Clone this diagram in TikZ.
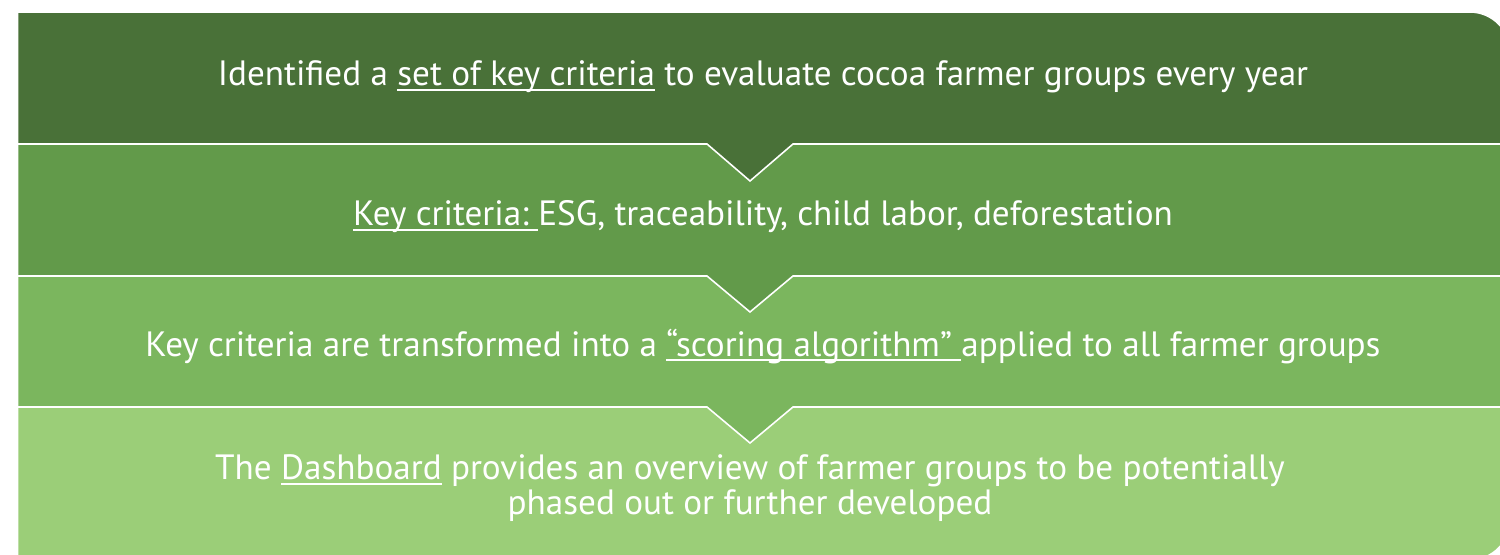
\documentclass[tikz,border=0pt]{standalone}
\usepackage{fontspec}
\setmainfont{PT Sans}
\usepackage{tikz}

\definecolor{bandone}{RGB}{73,113,56}
\definecolor{bandtwo}{RGB}{98,154,74}
\definecolor{bandthree}{RGB}{123,182,94}
\definecolor{bandfour}{RGB}{155,206,120}

% underline at a fixed depth, through the descenders
\newcommand{\uln}[1]{\setbox0=\hbox{#1}\rlap{\vrule height -0.08em depth 0.135em width \wd0\relax}\box0\relax}

\begin{document}
\begin{tikzpicture}[txt/.style={text=white,font=\fontsize{20}{18}\selectfont,align=center,anchor=base,inner sep=0pt},
                    band/.style={draw=white,line width=0.9pt,line join=miter}]
      \useasboundingbox (0,0) rectangle (30,11.08);
      \clip (0,0) rectangle (30,11.08);

      % bands, lowest first so the notches lie on top
      \fill [white] (0,0) rectangle (30,11.08);
      \draw [band,fill=bandfour] (0.35,2.94) -- (30.2,2.94) -- (30.2,0.68) arc (0:-90:0.8) -- (0.35,-0.12) -- cycle;
      \draw [band,fill=bandthree] (0.35,5.56) -- (30.2,5.56) -- (30.2,2.94) -- (15.86,2.94) -- (15.0,2.22) -- (14.14,2.94) -- (0.35,2.94) -- cycle;
      \draw [band,fill=bandtwo] (0.35,8.20) -- (30.2,8.20) -- (30.2,5.56) -- (15.86,5.56) -- (15.0,4.84) -- (14.14,5.56) -- (0.35,5.56) -- cycle;
      \draw [band,fill=bandone] (0.35,10.84) -- (29.4,10.84) arc (90:0:0.8) -- (30.2,8.20) -- (15.86,8.20) -- (15.0,7.46) -- (14.14,8.20) -- (0.35,8.20) -- cycle;

      \node [txt] (crit) at (15.26,9.36) {Identified a \uln{set of key criteria} to evaluate cocoa farmer groups every year};
      \node [txt] (keys) at (15.26,6.56) {\uln{Key criteria:\ }ESG, traceability, child labor, deforestation};
      \node [txt] (score) at (15.26,3.96) {Key criteria are transformed into a \uln{“scoring algorithm”\ }applied to all farmer groups};
      \node [txt] (dash) at (15.0,0.80) {The \uln{Dashboard} provides an overview of farmer groups to be potentially\\ phased out or further developed};

    \end{tikzpicture}
\end{document}
